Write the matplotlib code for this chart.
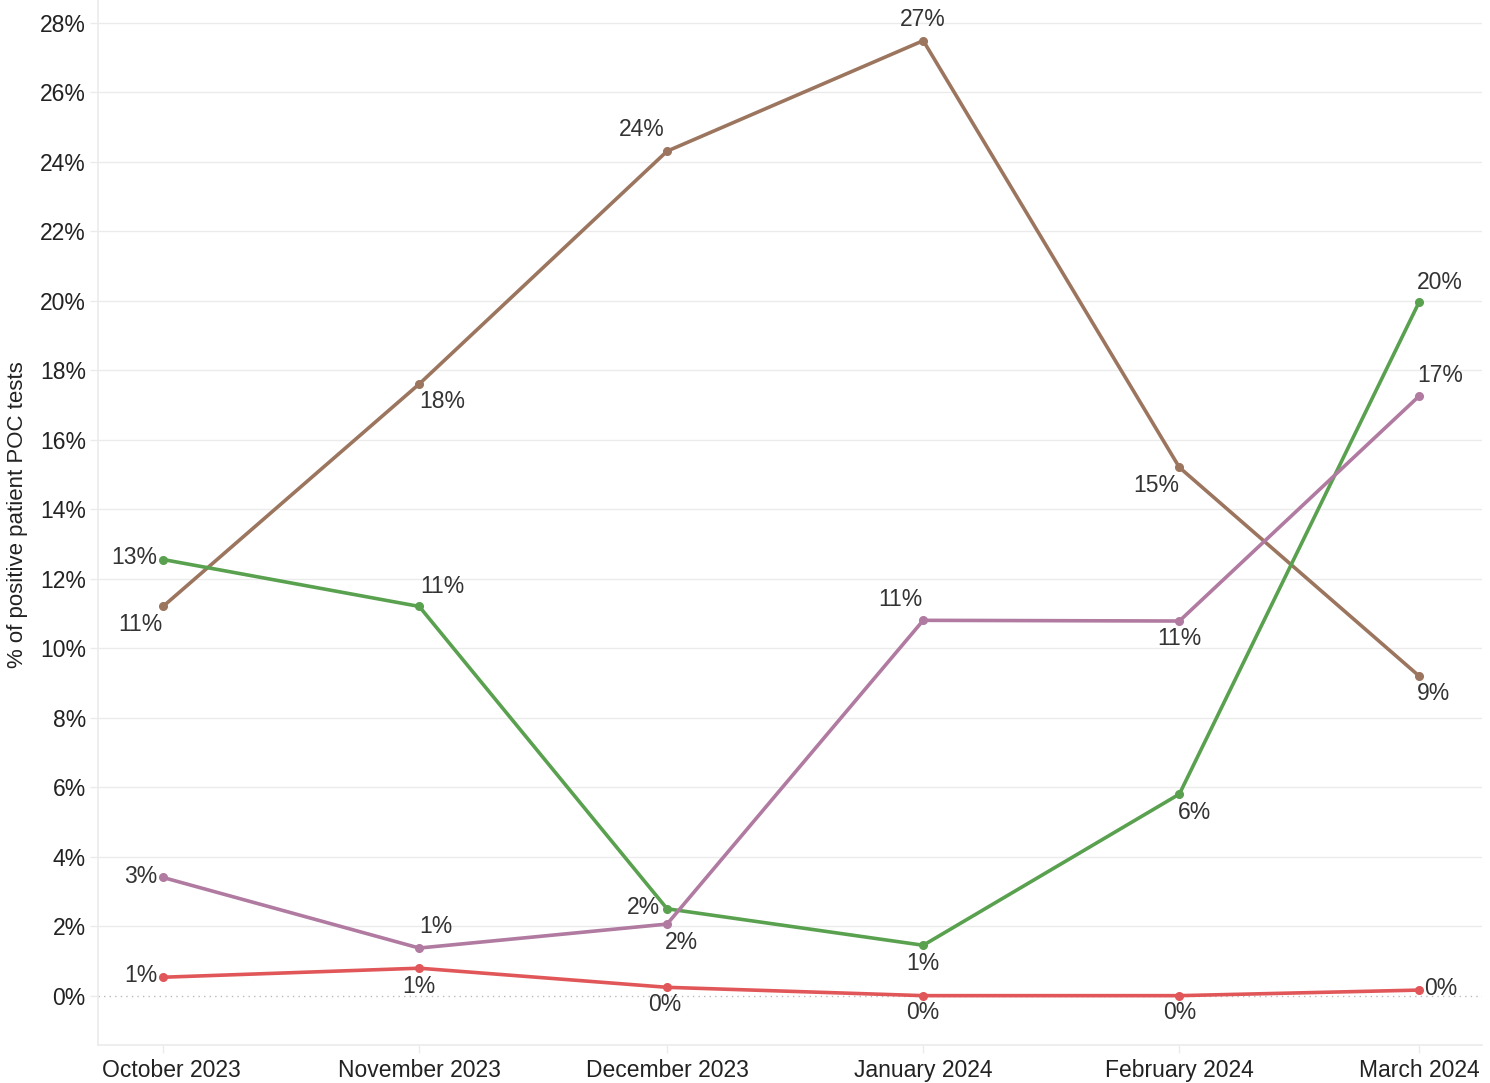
import datetime as dt
import matplotlib
matplotlib.use('Agg')
import matplotlib.pyplot as plt
import matplotlib.dates as mdates
from matplotlib.ticker import FixedLocator, FuncFormatter
from matplotlib.transforms import ScaledTranslation

plt.rcParams['font.family'] = ['Liberation Sans', 'DejaVu Sans']

months = [dt.datetime(2023, 10, 1), dt.datetime(2023, 11, 1), dt.datetime(2023, 12, 1),
          dt.datetime(2024, 1, 1), dt.datetime(2024, 2, 1), dt.datetime(2024, 3, 1)]
month_labels = ['October 2023', 'November 2023', 'December 2023',
                'January 2024', 'February 2024', 'March 2024']

# percent values per series
brown_vals = [11.2, 17.6, 24.3, 27.48, 15.2, 9.2]
green_vals = [12.55, 11.2, 2.5, 1.45, 5.8, 19.95]
purple_vals = [3.4, 1.37, 2.06, 10.8, 10.78, 17.25]
red_vals = [0.53, 0.79, 0.24, 0.0, 0.0, 0.16]

# label offsets (pixels) and alignment for each point
brown_lab = [(-23, -18, 'center'), (23, -17, 'center'), (-25, 22, 'center'),
             (0, 21, 'center'), (-23, -18, 'center'), (15, -18, 'center')]
green_lab = [(-6, 2, 'right'), (23, 20, 'center'), (-7, 1, 'right'),
             (0, -18, 'center'), (15, -18, 'center'), (21, 20, 'center')]
purple_lab = [(-6, 1, 'right'), (17, 22, 'center'), (14, -18, 'center'),
              (-23, 21, 'center'), (0, -17, 'center'), (21, 21, 'center')]
red_lab = [(-6, 2, 'right'), (0, -18, 'center'), (-2, -17, 'center'),
           (0, -17, 'center'), (0, -17, 'center'), (5, 2, 'left')]

series = [
    (brown_vals, brown_lab, '#9C755F'),
    (green_vals, green_lab, '#59A14F'),
    (purple_vals, purple_lab, '#B07AA1'),
    (red_vals, red_lab, '#E15759'),
]

fig = plt.figure(figsize=(14.9, 10.83), dpi=100)
ax = fig.add_axes([98 / 1490, 38 / 1083, 1384 / 1490, 1045 / 1083])

grid_c = '#ebebeb'
for v in range(2, 30, 2):
    ax.axhline(v, color=grid_c, lw=1, zorder=0)
ax.axhline(0, color='#bbbbbb', lw=1, ls=(0, (1, 3)), zorder=0)

for vals, labs, col in series:
    ax.plot(months, vals, color=col, lw=2.6, marker='o', ms=5.5, zorder=3,
            solid_capstyle='round')
    for m, v, (dx, dy, ha) in zip(months, vals, labs):
        ax.annotate(f'{round(v):.0f}%', (m, v), xytext=(dx, dy),
                    textcoords='offset pixels', ha=ha, va='center',
                    fontsize=16.5, color='#333333', zorder=4)

ax.set_xlim(dt.datetime(2023, 9, 23, 3), dt.datetime(2024, 3, 8, 15))
ax.set_ylim(-1.42, 28.65)

ax.xaxis.set_major_locator(FixedLocator(mdates.date2num(months)))
ax.set_xticklabels(month_labels)
ax.set_yticks(range(0, 30, 2))
ax.yaxis.set_major_formatter(FuncFormatter(lambda v, p: f'{v:.0f}%'))

for s in ['top', 'right']:
    ax.spines[s].set_visible(False)
for s in ['left', 'bottom']:
    ax.spines[s].set_color(grid_c)
    ax.spines[s].set_linewidth(1.2)

ax.tick_params(axis='both', colors=grid_c, labelcolor='#222222',
               labelsize=16.5, length=5.8, width=1)
ax.tick_params(axis='y', pad=3)
ax.tick_params(axis='x', pad=4)

# first month label is nudged right so it stays inside the plot
first = ax.get_xticklabels()[0]
first.set_transform(first.get_transform() + ScaledTranslation(8 / 100, 0, fig.dpi_scale_trans))

fig.text(18 / 1490, 1 - 515 / 1083, '% of positive patient POC tests',
         rotation=90, ha='center', va='center', fontsize=16, color='#222222')

fig.savefig('out.png', dpi=100)
